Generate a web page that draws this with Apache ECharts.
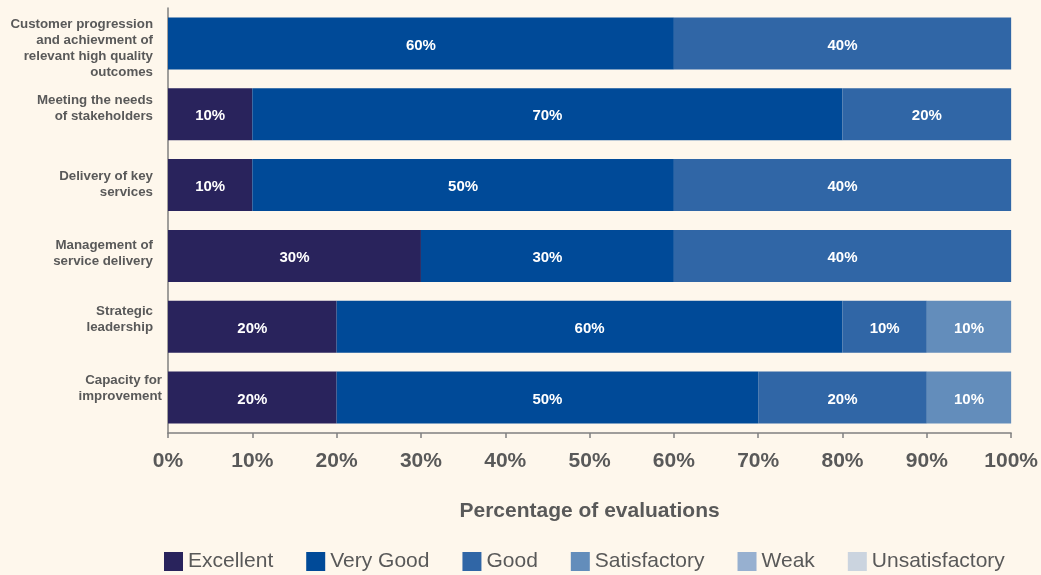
<!DOCTYPE html>
<html>
<head>
<meta charset="utf-8">
<script src="https://cdn.jsdelivr.net/npm/echarts@6/dist/echarts.min.js"></script>
<style>
html,body{margin:0;padding:0;background:#fef7ec;}
#chart{width:1041px;height:575px;}
</style>
</head>
<body>
<div id="chart"></div>
<script>
const categories = [
  "Customer progression\nand achievment of\nrelevant high quality\noutcomes",
  "Meeting the needs\nof stakeholders",
  "Delivery of key\nservices",
  "Management of\nservice delivery",
  "Strategic\nleadership",
  "Capacity for\nimprovement"
];
const excellent = [0, 10, 10, 30, 20, 20];
const veryGood = [60, 70, 50, 30, 60, 50];
const good = [40, 20, 40, 40, 10, 20];
const satisfactory = [0, 0, 0, 0, 10, 10];
const weak = [0, 0, 0, 0, 0, 0];
const unsatisfactory = [0, 0, 0, 0, 0, 0];
const xTicks = [0, 10, 20, 30, 40, 50, 60, 70, 80, 90, 100];

// label vertical nudges (px, + = down) and right indent per category label
const labelShift = [5, -6, -1, -3, -7, -9];
const labelIndent = [9, 9, 9, 9, 9, 0];

const seriesDefs = [
  ["Excellent", excellent, "#29235c"],
  ["Very Good", veryGood, "#004a98"],
  ["Good", good, "#3066a6"],
  ["Satisfactory", satisfactory, "#638dbb"],
  ["Weak", weak, "#97b0d0"],
  ["Unsatisfactory", unsatisfactory, "#cbd4df"]
];

const rich = { w: { width: 9, fontSize: 13, lineHeight: 16 } };
labelShift.forEach((s, i) => {
  rich['sp' + i] = { fontSize: 1, lineHeight: Math.max(1, Math.abs(s) * 2) };
});

const chart = echarts.init(document.getElementById('chart'));
chart.setOption({
  backgroundColor: '#fef7ec',
  animation: false,
  textStyle: { fontFamily: 'Liberation Sans, Arial, sans-serif' },
  grid: { left: 168, right: 28, top: 8, bottom: 142, containLabel: false },
  legend: {
    left: 164, top: 551, padding: 0,
    itemWidth: 19, itemHeight: 19, itemGap: 33,
    icon: 'rect',
    textStyle: { fontSize: 21, color: '#595959', fontFamily: 'Liberation Sans, Arial, sans-serif' },
    data: seriesDefs.map(d => d[0])
  },
  xAxis: {
    type: 'value', min: xTicks[0], max: xTicks[xTicks.length - 1], interval: 10,
    name: 'Percentage of evaluations', nameLocation: 'middle', nameGap: 68,
    nameTextStyle: { fontSize: 21, fontWeight: 'bold', color: '#595959' },
    axisLine: { show: true, lineStyle: { color: '#808080', width: 1.5 } },
    axisTick: { show: true, length: 5, lineStyle: { color: '#808080', width: 1.5 } },
    axisLabel: { formatter: '{value}%', fontSize: 21, fontWeight: 'bold', color: '#595959', margin: 18 },
    splitLine: { show: false }
  },
  yAxis: {
    type: 'category', inverse: true, data: categories,
    axisLine: { show: true, lineStyle: { color: '#808080', width: 1.5 } },
    axisTick: { show: false },
    axisLabel: {
      fontSize: 13.3, fontWeight: 'bold', color: '#595959', lineHeight: 16, margin: 6, align: 'right',
      rich: rich,
      formatter: function (v, i) {
        const lines = v.split('\n').map(l => labelIndent[i] ? l + '{w| }' : l);
        const s = labelShift[i];
        const sp = '{sp' + i + '| }';
        if (s > 0) return sp + '\n' + lines.join('\n');
        if (s < 0) return lines.join('\n') + '\n' + sp;
        return lines.join('\n');
      }
    }
  },
  series: seriesDefs.map(d => ({
    name: d[0], type: 'bar', stack: 'total', data: d[1], barWidth: 52,
    itemStyle: { color: d[2] },
    label: {
      show: true, position: 'inside', color: '#ffffff', fontSize: 15, fontWeight: 'bold',
      offset: [0, 2],
      formatter: p => p.value > 0 ? p.value + '%' : ''
    }
  }))
});
</script>
</body>
</html>
